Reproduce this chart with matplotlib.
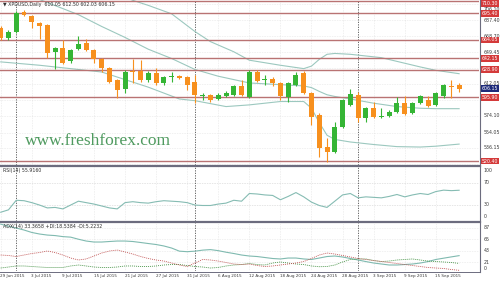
import matplotlib
matplotlib.use('Agg')
import matplotlib.pyplot as plt
import matplotlib.transforms as mtransforms
from matplotlib.lines import Line2D

# ---------------- data ----------------
symbol_header = "\u25BC XPDUSD,Daily  610.05 612.50 602.03 606.15"
rsi_header = "RSI(14) 55.9160"
adx_header = "ADX(14) 33.3658 +DI:18.5384 -DI:5.2232"

xtick_labels = ['29 Jun 2015', '3 Jul 2015', '9 Jul 2015', '15 Jul 2015', '21 Jul 2015',
                '27 Jul 2015', '31 Jul 2015', '6 Aug 2015', '12 Aug 2015', '18 Aug 2015',
                '24 Aug 2015', '28 Aug 2015', '3 Sep 2015', '9 Sep 2015', '15 Sep 2015']
xtick_bars = [0, 4, 8, 12, 16, 20, 24, 28, 32, 36, 40, 44, 48, 52, 56]
month_start_bars = [2, 25, 46]

opens = [678.2, 666.3, 673.4, 697.2, 692.4, 684.1, 681.7, 649.7, 654.5, 639.1,
         653.3, 660.4, 652.1, 641.4, 630.8, 616.5, 605.8, 627.2, 627.2, 616.5,
         624.8, 613.0, 620.1, 621.3, 620.1, 614.1, 597.5, 598.7, 594.0, 597.5,
         598.7, 609.4, 596.4, 626.0, 616.5, 617.7, 613.0, 596.4, 610.6, 624.8,
         601.1, 575.0, 537.1, 531.1, 560.8, 586.9, 598.7, 571.5, 583.3, 572.6,
         573.8, 578.6, 589.2, 577.4, 589.2, 592.8, 586.9, 597.5, 608.8, 610.05]
highs = [680.6, 675.8, 698.4, 699.5, 693.6, 685.3, 683.0, 655.7, 664.0, 653.3,
         668.7, 665.1, 653.3, 642.6, 632.0, 617.7, 628.4, 641.4, 640.2, 627.2,
         630.8, 621.3, 626.0, 622.4, 621.3, 622.4, 601.1, 599.9, 601.1, 603.5,
         610.6, 616.5, 628.4, 628.4, 622.4, 620.1, 614.1, 614.1, 626.0, 627.2,
         602.3, 577.4, 547.7, 566.7, 594.0, 605.8, 602.3, 584.5, 590.4, 583.3,
         580.9, 596.4, 597.5, 590.4, 598.7, 597.5, 602.3, 611.8, 616.5, 612.50]
lows = [664.0, 664.0, 672.3, 692.4, 678.2, 665.1, 642.6, 629.6, 635.5, 636.7,
        652.1, 650.9, 636.7, 626.0, 613.0, 595.2, 601.1, 613.0, 614.1, 614.1,
        610.6, 610.6, 614.1, 617.7, 604.7, 589.2, 592.8, 590.4, 592.8, 596.4,
        597.5, 597.5, 595.2, 614.1, 610.6, 609.4, 592.8, 590.4, 609.4, 599.9,
        563.2, 525.2, 519.3, 529.9, 559.6, 585.7, 566.7, 566.7, 571.5, 571.5,
        572.6, 577.4, 575.0, 576.2, 588.0, 584.5, 585.7, 595.2, 595.2, 602.03]
closes = [666.3, 673.4, 696.0, 693.6, 685.3, 680.6, 648.5, 654.5, 636.7, 652.1,
          659.2, 652.1, 641.4, 630.8, 614.1, 604.7, 626.0, 626.0, 616.5, 624.8,
          613.0, 620.1, 621.3, 618.9, 610.6, 598.7, 598.7, 592.8, 598.7, 601.1,
          609.4, 598.7, 626.0, 615.3, 617.7, 613.0, 597.5, 613.0, 622.4, 601.1,
          572.6, 535.9, 531.1, 560.8, 592.8, 599.9, 571.5, 583.3, 572.6, 573.4,
          578.6, 589.2, 576.2, 589.2, 597.5, 585.7, 601.1, 610.6, 608.2, 606.15]

# Bollinger band lines (bar index, price)
bb_upper_bars = [0, 10, 17, 19, 22, 25, 27, 30, 32, 36, 39, 40, 41, 42, 43, 45, 49, 54, 56, 59]
bb_upper = [795, 740, 711, 705, 695, 674, 662, 650, 640, 634, 630, 633, 641, 647, 648, 647, 643, 632, 628, 624]
bb_mid_bars = [0, 5, 10, 13, 16, 19, 22, 25, 28, 32, 36, 39, 40, 41, 42, 43, 45, 48, 51, 54, 56, 59]
bb_mid = [735, 712, 694, 680, 667, 653, 642, 629, 621, 613, 611, 609.5, 607.5, 603, 599, 597, 594, 589, 585, 583, 582.5, 582.5]
bb_low_bars = [0, 5, 13, 19, 23, 25, 29, 32, 36, 39, 40, 41, 42, 43, 45, 48, 51, 54, 56, 59]
bb_low = [638, 634, 626, 608, 594, 592, 585, 587, 591, 591, 583, 566, 551, 546,
          543, 540, 537.5, 537, 538, 540.5]

# horizontal support / resistance lines with their labels
level_values = [710.3, 695.40, 664.05, 642.15, 628.90, 595.90, 520.40]
level_labels = ['710.30', '695.40', '664.05', '642.15', '628.90', '595.90', '520.40']
price_ticks = [706.10, 687.40, 668.70, 649.45, 630.75, 612.05, 593.35, 574.10, 554.05, 536.15, 517.45]
price_tick_labels = ['706.10', '687.40', '668.70', '649.45', '', '612.05', '', '574.10', '554.05', '536.15', '']
last_price = 606.15

rsi = [15.9, 20.3, 37.7, 36.9, 33.4, 29.0, 23.8, 24.7, 22.0, 29.0,
       36.0, 33.4, 30.8, 27.3, 23.8, 22.0, 33.4, 35.1, 33.4, 32.5,
       35.1, 36.9, 36.0, 35.1, 33.4, 29.0, 28.2, 28.2, 30.8, 32.5,
       37.7, 36.0, 50.0, 49.1, 47.4, 46.5, 38.6, 44.7, 51.7, 43.9,
       34.3, 28.2, 24.7, 36.0, 47.4, 50.0, 42.1, 43.9, 43.0, 42.1,
       44.7, 48.2, 43.9, 47.4, 50.0, 48.2, 53.5, 56.1, 55.2, 55.9]
rsi_ticks = [100, 70, 30, 0]

adx = [94, 90, 86.5, 82.7, 78, 75, 73, 72, 70, 69,
       65, 61.5, 59.6, 59.6, 60.6, 61.5, 61.5, 60.6, 58.7, 56.7,
       54.8, 52, 48, 42, 41, 42, 44, 45, 43, 40,
       37.5, 34.6, 32.7, 31.7, 29.8, 27.9, 27, 28.8, 28.8, 27,
       26, 28.8, 31.7, 32.7, 30.8, 27.9, 25, 22, 19.2, 17.3,
       15.4, 15.4, 16.3, 17.3, 19.2, 22, 26, 28.5, 31, 33.4]
plus_di = [9.6, 11.5, 13.5, 13.5, 12.5, 11.5, 10.6, 10.6, 10.6, 13.5,
           15.4, 13.5, 11.5, 10.6, 10.6, 11.5, 13.5, 13.5, 12.5, 12.5,
           13.5, 15.4, 16.3, 16.3, 14.4, 12.5, 11.5, 9.6, 10.6, 13.5,
           15.4, 16.3, 18.3, 16.3, 15.4, 19.2, 21.2, 19.2, 17.3, 16.3,
           13.5, 12.1, 12.5, 15.4, 21.2, 26, 27, 27, 24, 22,
           23, 25, 26, 27, 25, 23, 22, 21.2, 20.2, 18.5]
minus_di = [34.6, 33.7, 31.7, 34.6, 37.5, 39.4, 42.3, 39.4, 34.6, 28.8,
            25, 27, 32.7, 38.5, 42.3, 44.2, 40.4, 36.5, 31.7, 27.9,
            25, 23, 19.2, 15.4, 12.5, 19.2, 26, 25, 23, 20.2,
            17.3, 16.3, 17.3, 14.4, 12.5, 13.5, 15.4, 17.3, 19.2, 22.1,
            27.9, 34.6, 38.5, 36.5, 33.7, 30.8, 27.9, 26, 24, 22.1,
            20.2, 18.3, 16.3, 14.4, 12.5, 10.6, 9.6, 8.7, 6.7, 5.2]
adx_ticks = [87, 65, 43, 21, 0]

# ---------------- styling ----------------
W, H = 500.0, 281.0
UP = '#35b535'
DOWN = '#f7901e'
BAND = '#9cc8bf'
LEVEL = '#b97373'
GRID = '#d2d2d2'
FRAME = '#6c6c7e'
TXT = '#3c3c3c'
FS = 3.4

fig = plt.figure(figsize=(W / 100, H / 100), dpi=100)
fig.patch.set_facecolor('white')


def box(x0, y0, x1, y1):
    return [x0 / W, 1 - y1 / H, (x1 - x0) / W, (y1 - y0) / H]


XL = (-0.09, 61.56)
ax_main = fig.add_axes(box(0, 0, 479, 165))
ax_rsi = fig.add_axes(box(0, 166, 479, 221))
ax_adx = fig.add_axes(box(0, 223, 479, 271))
for ax in (ax_main, ax_rsi, ax_adx):
    ax.set_xlim(*XL)
    ax.set_xticks([])
    ax.set_yticks([])
    for s in ax.spines.values():
        s.set_visible(False)
    ax.set_facecolor('white')
    for b in xtick_bars:
        ax.axvline(b, color=GRID, lw=0.4, ls=(0, (1, 2)), zorder=0)
    for b in month_start_bars:
        ax.axvline(b, color='#505050', lw=0.6, ls=(0, (1.5, 1.5)), zorder=1)

YMIN, YMAX = 515.7, 711.4
ax_main.set_ylim(YMIN, YMAX)
ax_rsi.set_ylim(0, 100)
ax_adx.set_ylim(3.85, 96.2)

# ---- main panel ----
for t in price_ticks:
    ax_main.axhline(t, color=GRID, lw=0.4, ls=(0, (1, 2)), zorder=0)

ax_main.plot(bb_upper_bars, bb_upper, color=BAND, lw=0.8, zorder=2)
ax_main.plot(bb_mid_bars, bb_mid, color=BAND, lw=0.8, zorder=2)
ax_main.plot(bb_low_bars, bb_low, color=BAND, lw=0.8, zorder=2)

for v in level_values:
    ax_main.axhline(v, color=LEVEL, lw=1.0, zorder=2)

for i, (o, h, l, c) in enumerate(zip(opens, highs, lows, closes)):
    col = UP if c >= o else DOWN
    ax_main.vlines(i, l, h, color=col, lw=0.8, zorder=3)
    hgt = max(abs(c - o), 1.0)
    ax_main.bar(i, hgt, bottom=min(o, c), width=0.64, color=col, lw=0, zorder=4)

PX = (YMAX - YMIN) / 165.0  # price per pixel in the main panel
trans_main = mtransforms.blended_transform_factory(ax_main.transAxes, ax_main.transData)
for t, lab in zip(price_ticks, price_tick_labels):
    if lab:
        yy = min(t, YMAX - 9.5 * PX)
        ax_main.text(1.01, yy, lab, transform=trans_main, fontsize=FS, color=TXT,
                     va='center', ha='left', clip_on=False)
for v, lab in zip(level_values, level_labels):
    yy = min(v, YMAX - 3.6 * PX)
    ax_main.text(1.006, yy, lab, transform=trans_main, fontsize=FS, color='white',
                 va='center', ha='left', clip_on=False, zorder=10,
                 bbox=dict(boxstyle='square,pad=0.18', fc='#d43a3a', ec='none'))
ax_main.text(1.006, last_price, '606.15', transform=trans_main, fontsize=FS, color='white',
             va='center', ha='left', clip_on=False, zorder=10,
             bbox=dict(boxstyle='square,pad=0.18', fc='#1d2a7a', ec='none'))

ax_main.text(0.006, 0.985, symbol_header, transform=ax_main.transAxes, fontsize=FS,
             color='#303030', va='top', ha='left')
ax_main.text(0.052, 0.145, 'www.freshforex.com', transform=ax_main.transAxes,
             fontsize=12.5, color='#4f9a5f', family='Liberation Serif', va='center', ha='left')

# ---- RSI panel ----
for lv in (70, 30):
    ax_rsi.axhline(lv, color='#b0b0b0', lw=0.4, ls=(0, (1, 2)), zorder=0)
ax_rsi.plot(range(len(rsi)), rsi, color='#86bcb3', lw=0.8, zorder=3)
ax_rsi.text(0.006, 0.97, rsi_header, transform=ax_rsi.transAxes, fontsize=FS,
            color='#303030', va='top', ha='left')
trans_rsi = mtransforms.blended_transform_factory(ax_rsi.transAxes, ax_rsi.transData)
for t in rsi_ticks:
    yy = min(max(t, 8), 92)
    ax_rsi.text(1.01, yy, str(t), transform=trans_rsi, fontsize=FS, color=TXT,
                va='center', ha='left', clip_on=False)

# ---- ADX panel ----
for t in adx_ticks:
    ax_adx.axhline(t, color=GRID, lw=0.4, ls=(0, (1, 2)), zorder=0)
ax_adx.plot(range(len(adx)), adx, color='#80bab0', lw=0.8, zorder=3)
ax_adx.plot(range(len(plus_di)), plus_di, color='#3f8f3f', lw=0.6, ls=(0, (1.2, 1.2)), zorder=3)
ax_adx.plot(range(len(minus_di)), minus_di, color='#c05050', lw=0.6, ls=(0, (1.2, 1.2)), zorder=3)
ax_adx.text(0.006, 0.97, adx_header, transform=ax_adx.transAxes, fontsize=FS,
            color='#303030', va='top', ha='left')
trans_adx = mtransforms.blended_transform_factory(ax_adx.transAxes, ax_adx.transData)
for t in adx_ticks:
    yy = min(max(t, 8.5), 91.5)
    ax_adx.text(1.01, yy, str(t), transform=trans_adx, fontsize=FS, color=TXT,
                va='center', ha='left', clip_on=False)

# ---- time axis labels ----
trans_x = mtransforms.blended_transform_factory(ax_adx.transData, fig.transFigure)
for b, lab in zip(xtick_bars, xtick_labels):
    ax_adx.text(b - 0.05, 1 - 276.5 / H, lab, transform=trans_x, fontsize=3.0, color=TXT,
                va='center', ha='left', clip_on=False)


# ---- frame lines ----
def fline(x0, y0, x1, y1, lw, color=FRAME):
    fig.add_artist(Line2D([x0 / W, x1 / W], [1 - y0 / H, 1 - y1 / H], lw=lw, color=color))


fline(479.5, 0, 479.5, 272, 0.8)
fline(0, 165.8, 479.5, 165.8, 1.6)
fline(0, 222.2, 479.5, 222.2, 1.6)
fline(0, 271.5, 479.5, 271.5, 0.7)

fig.savefig('out.png', dpi=100, facecolor='white')
